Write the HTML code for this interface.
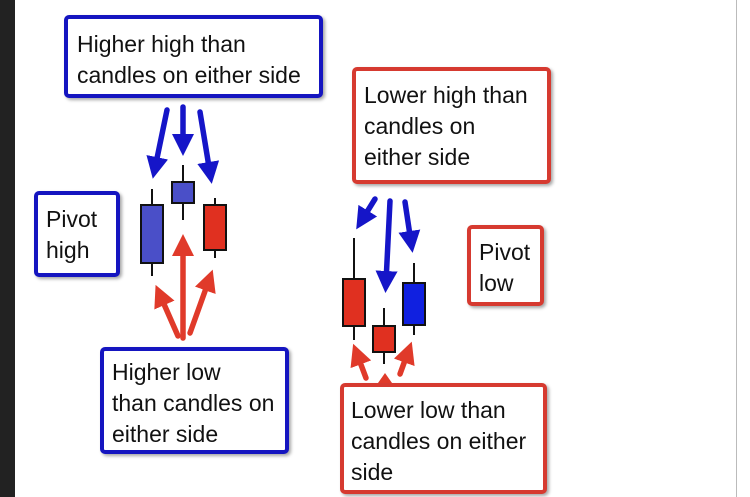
<!DOCTYPE html>
<html><head><style>
body{margin:0;width:750px;height:497px;background:#fff;overflow:hidden;position:relative;font-family:"Liberation Sans",sans-serif;}
.b{position:absolute;border:4px solid;border-radius:5px;box-sizing:border-box;background:#fff;font-size:23px;line-height:31px;color:#111;box-shadow:2px 2px 3px rgba(0,0,0,.35);white-space:nowrap;}
.bl{border-color:#1515c0}.rd{border-color:#d63a30}
</style></head><body>
<div style="position:absolute;left:0;top:0;width:15px;height:497px;background:#222"></div>
<div style="position:absolute;left:736px;top:0;width:1px;height:497px;background:#bbb"></div>
<div class="b bl" style="left:64px;top:15px;width:259px;height:83px;padding:10px 0 0 9px;line-height:31px">Higher high than<br>candles on either side</div>
<div class="b bl" style="left:34px;top:191px;width:86px;height:86px;padding:9px 0 0 8px">Pivot<br>high</div>
<div class="b bl" style="left:100px;top:347px;width:189px;height:107px;padding:6px 0 0 8px">Higher low<br>than candles on<br>either side</div>
<div class="b rd" style="left:352px;top:67px;width:199px;height:117px;padding:9px 0 0 8px">Lower high than<br>candles on<br>either side</div>
<div class="b rd" style="left:467px;top:225px;width:77px;height:81px;padding:8px 0 0 8px">Pivot<br>low</div>
<div class="b rd" style="left:340px;top:383px;width:207px;height:111px;padding:8px 0 0 7px">Lower low than<br>candles on either<br>side</div>
<svg width="750" height="497" style="position:absolute;left:0;top:0">
<defs>
<marker id="ab" markerWidth="4" markerHeight="4" refX="2" refY="2" orient="auto" markerUnits="strokeWidth"><path d="M0,0L4,2L0,4z" fill="#1515c8"/></marker>
<marker id="ar" markerWidth="4" markerHeight="4" refX="2" refY="2" orient="auto" markerUnits="strokeWidth"><path d="M0,0L4,2L0,4z" fill="#e03a2a"/></marker>
</defs>
<g stroke="#111" stroke-width="2">
<line x1="152" y1="189" x2="152" y2="276"/><rect x="141" y="205" width="22" height="58" fill="#4a4fc8"/>
<line x1="183" y1="165" x2="183" y2="220"/><rect x="172" y="182" width="22" height="21" fill="#4a4fc8"/>
<line x1="215" y1="198" x2="215" y2="258"/><rect x="204" y="205" width="22" height="45" fill="#e03020"/>
<line x1="354" y1="238" x2="354" y2="340"/><rect x="343" y="279" width="22" height="47" fill="#e03020"/>
<line x1="384" y1="308" x2="384" y2="364"/><rect x="373" y="326" width="22" height="26" fill="#e03020"/>
<line x1="414" y1="263" x2="414" y2="335"/><rect x="403" y="283" width="22" height="42" fill="#1020e0"/>
</g>
<g stroke="#1515c8" stroke-width="5.5" stroke-linecap="round">
<line x1="167" y1="110" x2="155" y2="168" marker-end="url(#ab)"/>
<line x1="183" y1="107" x2="183" y2="145" marker-end="url(#ab)"/>
<line x1="200" y1="112" x2="210" y2="173" marker-end="url(#ab)"/>
<line x1="375" y1="199" x2="362" y2="220" marker-end="url(#ab)"/>
<line x1="390" y1="201" x2="386" y2="282" marker-end="url(#ab)"/>
<line x1="405" y1="202" x2="411" y2="242" marker-end="url(#ab)"/>
</g>
<g stroke="#e03a2a" stroke-width="5.5" stroke-linecap="round">
<line x1="178" y1="336" x2="160" y2="295" marker-end="url(#ar)"/>
<line x1="183" y1="338" x2="183" y2="245" marker-end="url(#ar)"/>
<line x1="190" y1="333" x2="209" y2="280" marker-end="url(#ar)"/>
<line x1="366" y1="378" x2="357" y2="354" marker-end="url(#ar)"/>
<line x1="400" y1="374" x2="408" y2="352" marker-end="url(#ar)"/>
</g>
<path d="M378,383L385,373L392,383z" fill="#e03a2a"/>
</svg>
</body></html>
